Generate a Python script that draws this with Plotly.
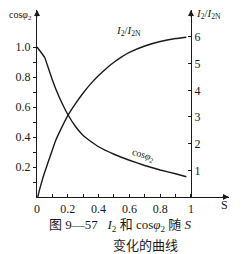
import plotly.graph_objects as go

# data
s_cos = [0, 0.05, 0.08, 0.1, 0.13, 0.17, 0.2, 0.25, 0.3, 0.35, 0.4, 0.5, 0.6, 0.7, 0.8, 0.9, 0.97]
cos_phi2 = [1.0, 0.93, 0.84, 0.78, 0.70, 0.61, 0.55, 0.47, 0.41, 0.37, 0.335, 0.285, 0.245, 0.21, 0.18, 0.155, 0.135]
s_i2 = [0.005, 0.02, 0.04, 0.06, 0.084, 0.12, 0.16, 0.2, 0.25, 0.3, 0.35, 0.4, 0.45, 0.5, 0.55, 0.6, 0.7, 0.8, 0.9, 0.97]
i2_ratio = [0, 0.35, 0.75, 1.1, 1.5, 2.1, 2.6, 3.05, 3.5, 3.9, 4.25, 4.55, 4.82, 5.05, 5.25, 5.42, 5.66, 5.83, 5.94, 5.99]
x_ticks = [0, 0.2, 0.4, 0.6, 0.8, 1.0]
x_ticktext = ["0", "0.2", "0.4", "0.6", "0.8", "1"]
y1_ticks = [0.2, 0.4, 0.6, 0.8, 1.0]
y1_ticktext = ["0.2", "0.4", "0.6", "0.8", "1.0"]
y2_ticks = [1, 2, 3, 4, 5, 6]

ink = "#1a1a1a"
serif = "Liberation Serif"
cjk = "Liberation Serif, Noto Sans CJK SC"
W, H = 242, 254
L, R, T, B = 37, 13, 10, 57
XMAX = 1.247
Y1MAX = 1.247
Y2MAX = 7.01
pos_right = 1.0 / XMAX

fig = go.Figure()
fig.add_trace(go.Scatter(x=s_cos, y=cos_phi2, mode="lines",
                         line=dict(color=ink, width=1.4, shape="spline", smoothing=0.3),
                         showlegend=False, hoverinfo="skip"))
fig.add_trace(go.Scatter(x=s_i2, y=i2_ratio, mode="lines", yaxis="y2",
                         line=dict(color=ink, width=1.4, shape="spline", smoothing=0.3),
                         showlegend=False, hoverinfo="skip"))

tickfont = dict(family=serif, size=12, color=ink)
fig.update_layout(
    width=W, height=H,
    margin=dict(l=L, r=R, t=T, b=B, pad=0),
    paper_bgcolor="white", plot_bgcolor="white",
    font=dict(family=serif, color=ink),
    xaxis=dict(range=[0, XMAX], showgrid=False, zeroline=False,
               showline=True, linecolor=ink, linewidth=1.2,
               tickmode="array", tickvals=x_ticks, ticktext=x_ticktext,
               ticks="inside", ticklen=3, tickcolor=ink, tickfont=tickfont,
               minor=dict(tickvals=[0.1, 0.3, 0.5, 0.7, 0.9], ticks="inside",
                          ticklen=3, tickcolor=ink)),
    yaxis=dict(range=[0, Y1MAX], showgrid=False, zeroline=False,
               showline=True, linecolor=ink, linewidth=1.2,
               tickmode="array", tickvals=y1_ticks, ticktext=y1_ticktext,
               ticks="outside", ticklen=3, tickcolor=ink, tickfont=tickfont,
               minor=dict(tickvals=[0.1, 0.3, 0.5, 0.7, 0.9], ticks="outside",
                          ticklen=3, tickcolor=ink)),
    yaxis2=dict(range=[0, Y2MAX], overlaying="y", anchor="free", position=pos_right,
                side="right", showgrid=False, zeroline=False,
                showline=True, linecolor=ink, linewidth=1.2,
                tickmode="array", tickvals=y2_ticks,
                ticks="inside", ticklen=3, tickcolor=ink, tickfont=tickfont),
)

# axis arrows
fig.add_annotation(x=0, y=Y1MAX, xref="x", yref="y", ax=0, ay=8, showarrow=True,
                   arrowhead=2, arrowsize=1, arrowwidth=1.2, arrowcolor=ink, text="")
fig.add_annotation(x=1.0, y=Y1MAX, xref="x", yref="y", ax=0, ay=8, showarrow=True,
                   arrowhead=2, arrowsize=1, arrowwidth=1.2, arrowcolor=ink, text="")
fig.add_annotation(x=XMAX, y=0, xref="x", yref="y", ax=-8, ay=0, showarrow=True,
                   arrowhead=2, arrowsize=1, arrowwidth=1.2, arrowcolor=ink, text="")

def label(text, x, y, size=11, angle=0, xanchor="center", family=serif):
    fig.add_annotation(x=x, y=y, xref="paper", yref="paper", text=text, showarrow=False,
                       font=dict(family=family, size=size, color=ink),
                       xanchor=xanchor, yanchor="middle", textangle=angle)

def px_x(p):
    return (p - L) / (W - L - R)

def px_y(p):
    return (H - B - p) / (H - T - B)

label("cos<i>φ</i><sub>2</sub>", px_x(34), px_y(15), size=10, xanchor="right")
label("<i>I</i><sub>2</sub>/<i>I</i><sub>2N</sub>", px_x(194), px_y(14), size=11, xanchor="left")
label("<i>I</i><sub>2</sub>/<i>I</i><sub>2N</sub>", px_x(128), px_y(31), size=11)
label("cos<i>φ</i><sub>2</sub>", px_x(143), px_y(155), size=10, angle=18)
label("S", px_x(224), px_y(205), size=12)
label("图 9—57   <i>I</i><sub>2</sub> 和 cos<i>φ</i><sub>2</sub> 随 <i>S</i>", px_x(120), px_y(225), size=13, family=cjk)
label("变化的曲线", px_x(145), px_y(245), size=13, family=cjk)

fig.write_html("out.html")
